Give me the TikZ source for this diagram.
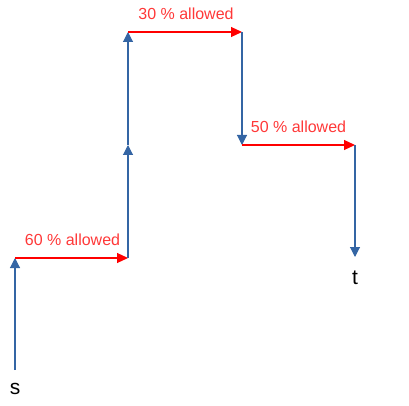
\documentclass[tikz,border=0pt]{standalone}
\usepackage{fontspec}
\setmainfont{Liberation Sans}
\usetikzlibrary{arrows.meta}
\definecolor{lblue}{RGB}{52,101,164}
\definecolor{lred}{RGB}{255,0,0}
\definecolor{tred}{RGB}{255,56,56}
\begin{document}
\begin{tikzpicture}[x=1pt,y=-1pt,
  bluearr/.style={draw=lblue,line width=1.1pt,-{Triangle[width=10pt,length=10pt]},color=lblue},
  redarr/.style={draw=lred,line width=1.1pt,-{Triangle[width=10pt,length=11pt]},color=lred},
  lbl/.style={text=tred,font=\fontsize{16}{19}\selectfont,inner sep=0pt},
  endlbl/.style={font=\fontsize{21}{24}\selectfont,inner sep=0pt}]
\useasboundingbox (0,0) rectangle (409,406);
\coordinate (p0) at (15,370);
\coordinate (p1) at (15,258);
\coordinate (p2) at (128,258);
\coordinate (p3) at (128,145);
\coordinate (p4) at (128,32);
\coordinate (p5) at (242,32);
\coordinate (p6) at (242,145);
\coordinate (p7) at (355,145);
\coordinate (p8) at (355,257);
\node[endlbl] (s) at (15,389) {s};
\node[endlbl] (t) at (355,278) {t};
\draw[bluearr] (p0) -- (p1);
\draw[redarr] (p1) -- (p2);
\draw[bluearr] (p2) -- (p3);
\draw[bluearr] (p3) -- (p4);
\draw[redarr] (p4) -- (p5);
\draw[bluearr] (p5) -- (p6);
\draw[redarr] (p6) -- (p7);
\draw[bluearr] (p7) -- (p8);
\node[lbl] (l1) at (72.5,240) {60 \% allowed};
\node[lbl] (l2) at (186,14) {30 \% allowed};
\node[lbl] (l3) at (298.5,127) {50 \% allowed};
\end{tikzpicture}
\end{document}
